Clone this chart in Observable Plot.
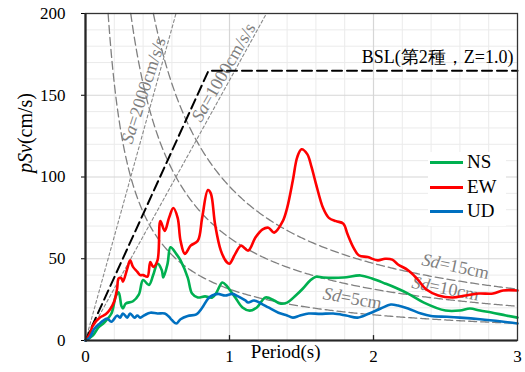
<!DOCTYPE html>
<html lang="en"><head><meta charset="utf-8">
<script src="https://cdn.jsdelivr.net/npm/d3@7"></script>
<script src="https://cdn.jsdelivr.net/npm/@observablehq/plot@0.6"></script>
<style>
@font-face{font-family:"LSerif";src:local("Liberation Serif"),local("LiberationSerif"),local("LiberationSerif-Regular");font-style:normal;}
@font-face{font-family:"LSerif";src:local("Liberation Serif Italic"),local("LiberationSerif-Italic");font-style:italic;}
body{margin:0;background:#fff;}
#wrap{position:relative;width:525px;height:372px;font-family:"Liberation Serif","LSerif","DejaVu Serif",serif;}
#wrap svg, #wrap svg text{font-family:"Liberation Serif","LSerif","DejaVu Serif",serif !important;}
#legend{position:absolute;left:428px;top:152px;width:78px;height:74px;background:#fff;}
.item{position:absolute;left:2px;height:20px;display:flex;align-items:center;font-size:19px;color:#000;line-height:20px;}
.sw{display:inline-block;width:33px;height:3px;margin-right:4px;}
</style></head><body><div id="wrap"></div>
<script>
// ---- data ----
const xTicks = [0, 1, 2, 3];
const yTicks = [0, 50, 100, 150, 200];
const xMinor = [0.2, 0.4, 0.6, 0.8, 1.2, 1.4, 1.6, 1.8, 2.2, 2.4, 2.6, 2.8];
const yMinor = [10, 20, 30, 40, 60, 70, 80, 90, 110, 120, 130, 140, 160, 170, 180, 190];
const seriesNames = ["NS", "EW", "UD"];
const seriesColors = ["#00B050", "#FF0000", "#0070C0"];

const NS_T = [0,0.05,0.09,0.13,0.18,0.21,0.23,0.25,0.26,0.28,0.33,0.37,0.40,0.44,0.47,0.50,0.53,0.54,0.57,0.59,0.63,0.66,0.71,0.74,0.78,0.83,0.88,0.91,0.95,0.98,1.01,1.04,1.09,1.14,1.19,1.25,1.31,1.35,1.40,1.46,1.51,1.56,1.60,1.65,1.79,1.91,1.99,2.08,2.15,2.24,2.35,2.50,2.60,2.67,2.74,2.82,2.92,3.00];
const NS = [0,3,8,11,16.5,27,29.5,21,19.6,22.6,24,28,37,34,40,47,43,38.5,47,57,53,49,38.5,28.7,26.3,27,26.3,29.4,35.5,33.5,30,26.3,20.2,18.3,20.2,26.3,24.5,22.6,23.2,27.5,31.8,36.7,39,38.5,38.5,39.8,37.9,34.9,32.4,28.7,23.2,18.3,18.3,19.6,18.3,17.1,15.3,14];

const EW_T = [0,0.03,0.05,0.10,0.14,0.17,0.20,0.22,0.23,0.25,0.26,0.29,0.31,0.33,0.36,0.38,0.40,0.43,0.45,0.47,0.50,0.52,0.55,0.58,0.61,0.64,0.66,0.69,0.73,0.78,0.81,0.85,0.87,0.90,0.94,0.98,1.00,1.04,1.08,1.13,1.18,1.23,1.27,1.31,1.37,1.40,1.44,1.47,1.50,1.54,1.57,1.60,1.65,1.69,1.74,1.79,1.82,1.86,1.90,1.96,2.03,2.08,2.13,2.17,2.24,2.30,2.37,2.45,2.55,2.64,2.73,2.83,2.90,3.00];
const EW = [0,4,9,14,16,19,24,32,38,38,36,44,49,45,42,40,40,39,48,45,49,73,67,75,81,75,61,53,58,61,75,92,90,71,55,48,47,53,58,55,63,68,69,66,73,81,98,112,117,114,106,96,81,75,73,71.5,65,57,52,51,49,50,49.5,46.5,43,38,31,27.5,26.3,27.5,28.7,28.7,30.6,30.6];

const UD_T = [0,0.03,0.06,0.10,0.12,0.15,0.18,0.22,0.24,0.26,0.29,0.31,0.34,0.36,0.38,0.41,0.45,0.50,0.55,0.58,0.60,0.63,0.66,0.71,0.77,0.81,0.85,0.88,0.92,0.97,1.02,1.06,1.11,1.13,1.17,1.22,1.27,1.34,1.40,1.44,1.49,1.55,1.63,1.72,1.81,1.89,1.97,2.05,2.12,2.17,2.24,2.33,2.40,2.51,2.60,2.74,2.89,3.00];
const UD = [0,2,7,10.5,12,13.5,11.5,15.3,14,16.5,14,16.5,14,15.3,14,15.5,17,16.5,16.5,14.5,12.5,10.4,13,15,16,20,25.5,27.5,28.5,27.5,28.5,27,24.5,23.2,24.5,22.6,20.2,17,15.3,14,15.3,16.5,16.3,16.5,15.3,14,16.5,19.6,22,21.4,19.6,16.5,15,14.5,14,13,11.6,10.4];

const bslT = [0, 0.854, 3];
const bslSv = [0, 165, 165];
const bslLabel = "BSL(第2種，Z=1.0)";

const sdValues = [5, 10, 15];        // cm
const saValues = [1000, 2000];       // cm/s/s
const xTitle = "Period(s)";
const yTitle = "pSv(cm/s)";

// ---- layout config (not data) ----
const guideLabels = [
  {text: "Sa=2000cm/s/s", T: 0.403, v: 152.9, rotate: -72},
  {text: "Sa=1000cm/s/s", T: 0.958, v: 164, rotate: -60},
  {text: "Sd=15cm", T: 2.57, v: 45.3, rotate: 12},
  {text: "Sd=10cm", T: 2.5, v: 31.8, rotate: 11},
  {text: "Sd=5cm", T: 1.854, v: 25.7, rotate: 10}
];
const xTitleT = 1.39;
const innerTick = 3;
const FONT = "'Liberation Serif','LSerif','DejaVu Serif',serif";

// ---- build rows ----
const mk = (Ts, Vs, name) => Ts.map((t, i) => ({T: t, v: Vs[i], s: name}));
const seriesRows = [mk(NS_T, NS, "NS"), mk(EW_T, EW, "EW"), mk(UD_T, UD, "UD")];
const bslRows = bslT.map((t, i) => ({T: t, v: bslSv[i]}));
const vMax = 200, tMax = 3;
const sdRows = sdValues.flatMap(sd => {
  const t0 = 2 * Math.PI * sd / vMax;
  const ts = [t0];
  for (let t = Math.ceil(t0 * 100) / 100; t <= tMax + 1e-9; t += 0.01) ts.push(t);
  return ts.map(t => ({T: t, v: 2 * Math.PI * sd / t, sd}));
});
const saRows = saValues.flatMap(sa => {
  const t1 = Math.min(tMax, vMax * 2 * Math.PI / sa);
  return [{T: 0, v: 0, sa}, {T: t1, v: sa * t1 / (2 * Math.PI), sa}];
});

const plot = Plot.plot({
  width: 525, height: 372,
  marginLeft: 85, marginRight: 8, marginTop: 13, marginBottom: 32,
  style: {fontFamily: FONT, fontSize: "17px", color: "#000", background: "#fff", overflow: "visible"},
  x: {domain: [0, 3], ticks: xTicks, tickSize: 0, tickPadding: 9, tickFormat: d => String(d), label: null},
  y: {domain: [0, 200], ticks: yTicks, tickSize: 4, tickPadding: 16, tickFormat: d => String(d), label: null},
  marks: [
    Plot.ruleX(xMinor, {stroke: "#ebebeb", strokeWidth: 1}),
    Plot.ruleY(yMinor, {stroke: "#ebebeb", strokeWidth: 1}),
    Plot.ruleX(xTicks.slice(1, -1), {stroke: "#d6d6d6", strokeWidth: 1.2}),
    Plot.ruleY(yTicks.slice(1, -1), {stroke: "#d6d6d6", strokeWidth: 1.2}),
    Plot.line(sdRows, {x: "T", y: "v", z: "sd", stroke: "#808080", strokeWidth: 1.3, strokeDasharray: "8,4"}),
    Plot.line(saRows, {x: "T", y: "v", z: "sa", stroke: "#8a8a8a", strokeWidth: 1.1, strokeDasharray: "3,2.5"}),
    Plot.text(guideLabels, {x: "T", y: "v", text: "text", rotate: "rotate", fill: "#7f7f7f", fontSize: 18}),
    Plot.line(bslRows, {x: "T", y: "v", stroke: "#000", strokeWidth: 2, strokeDasharray: "10,5"}),
    Plot.text([bslRows[bslRows.length - 1]], {x: "T", y: "v", text: () => bslLabel, textAnchor: "end", dx: -4, dy: -13, fontSize: 18, fill: "#000"}),
    ...seriesRows.map((rows, i) => Plot.line(rows, {x: "T", y: "v", stroke: seriesColors[i], strokeWidth: 2.6, curve: "catmull-rom"})),
    Plot.ruleX(xTicks.slice(1, -1), {y1: 0, y2: innerTick, stroke: "#222", strokeWidth: 1.3}),
    Plot.frame({stroke: "#333", strokeWidth: 1.3}),
    Plot.ruleX([0], {stroke: "#262626", strokeWidth: 2.2}),
    Plot.ruleY([0], {stroke: "#262626", strokeWidth: 2.2}),
    Plot.text([xTitle], {x: () => xTitleT, frameAnchor: "bottom", text: d => d, dy: 17, fontSize: 19}),
    Plot.text([yTitle], {frameAnchor: "left", text: d => d, rotate: -90, dx: -60, dy: -4, fontSize: 20})
  ]
});
plot.setAttribute("font-family", FONT);

// italic variable names
d3.select(plot).selectAll("text").each(function () {
  if (this.querySelector("tspan")) return;
  const t = this.textContent;
  const m = t.match(/^(pSv|Sa|Sd)(.*)$/);
  if (m) {
    this.textContent = "";
    d3.select(this).append("tspan").attr("font-style", "italic").text(m[1]);
    d3.select(this).append("tspan").text(m[2]);
  }
});

const wrap = document.getElementById("wrap");
wrap.appendChild(plot);

// legend
const leg = document.createElement("div");
leg.id = "legend";
const tops = [0, 25, 49];
seriesNames.forEach((n, i) => {
  const it = document.createElement("div");
  it.className = "item";
  it.style.top = tops[i] + "px";
  const sw = document.createElement("span");
  sw.className = "sw";
  sw.style.background = seriesColors[i];
  it.appendChild(sw);
  it.appendChild(document.createTextNode(n));
  leg.appendChild(it);
});
wrap.appendChild(leg);
</script></body></html>
